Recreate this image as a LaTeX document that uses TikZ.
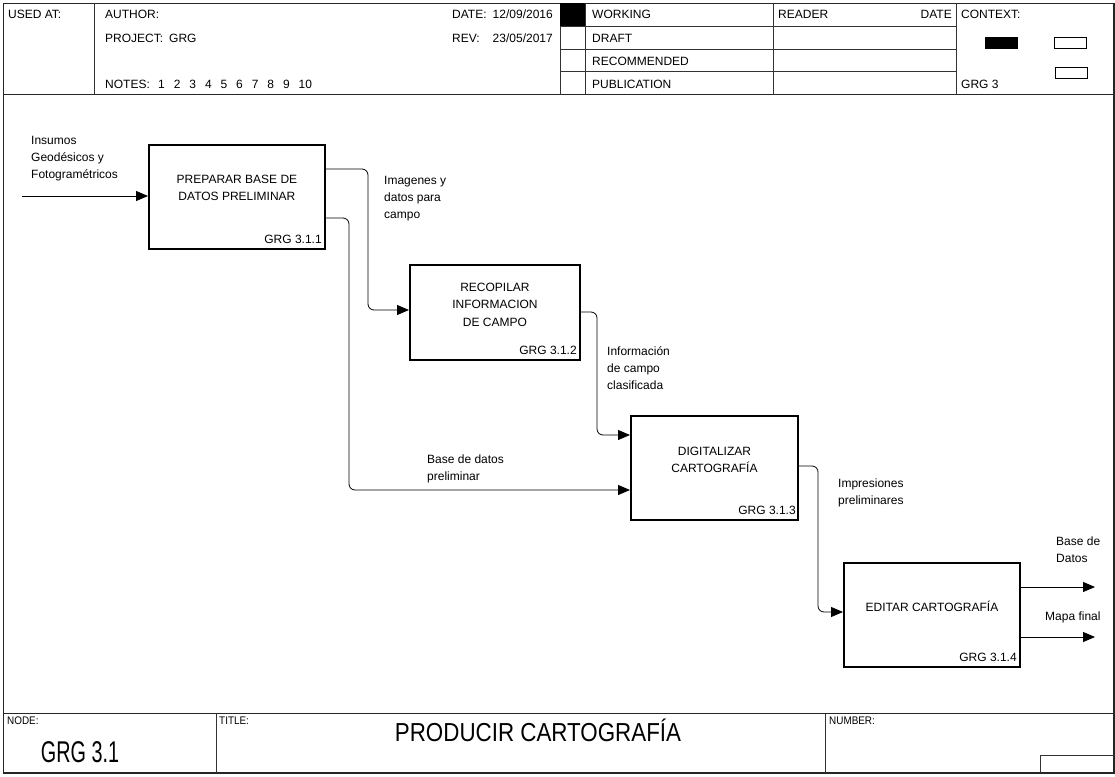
\documentclass[tikz,border=0pt]{standalone}
\usepackage{fontspec}
\setmainfont{Liberation Sans}
\newfontfamily\condsmall[FakeStretch=0.9]{Liberation Sans}
\newfontfamily\condbig[FakeStretch=0.66]{Liberation Sans}
\newfontfamily\condtitle[FakeStretch=0.86]{Liberation Sans}
\usetikzlibrary{arrows.meta}
\begin{document}
\begin{tikzpicture}[x=1pt,y=-1pt,
  frameline/.style={line width=1.3pt, draw=black!85},
  gridline/.style={line width=0.9pt, draw=black!80},
  procbox/.style={draw, line width=1.9pt, anchor=north west, inner sep=0pt},
  boxtxt/.style={font=\fontsize{12}{17.5}\selectfont, align=center, inner sep=0pt},
  code/.style={font=\fontsize{12}{14}\selectfont, anchor=base east, inner sep=0pt},
  conn/.style={line width=0.8pt, rounded corners=6pt, -{Triangle[length=12pt,width=10pt]}},
  lbl/.style={font=\fontsize{12}{17}\selectfont, align=left, anchor=north west, inner sep=0pt},
  hdr/.style={font=\fontsize{12}{14}\selectfont, anchor=base west, inner sep=0pt},
  hdrr/.style={font=\fontsize{12}{14}\selectfont, anchor=base east, inner sep=0pt},
  small/.style={font=\condsmall\fontsize{11}{13}\selectfont, anchor=base west, inner sep=0pt},
  ctxbox/.style={draw, line width=0.9pt, minimum width=32pt, minimum height=11pt, inner sep=0pt, anchor=north west},
]
\useasboundingbox (0,0) rectangle (1115,776);
% outer frame
\draw[frameline] (3.5,3.5) rectangle (1114,773);
% header
\draw[frameline] (3.5,94.5) -- (1114,94.5);
\draw[gridline] (94,3.5) -- (94,94.5);
\draw[gridline] (560,3.5) -- (560,94.5);
\draw[gridline] (585,3.5) -- (585,94.5);
\draw[gridline] (773,3.5) -- (773,94.5);
\draw[gridline] (956,3.5) -- (956,94.5);
\foreach \yy in {26,49,71.5} \draw[gridline] (560,\yy) -- (956,\yy);
\fill[black] (560,3.5) rectangle (585,26);
\node[hdr] (usedat) at (8,19) {USED AT:};
\node[hdr] (author) at (105,19) {AUTHOR:};
\node[hdr] (project) at (105,42) {PROJECT:};
\node[hdr] (projectv) at (169,42) {GRG};
\node[hdr] (notes) at (105,88) {NOTES:};
\foreach \n [count=\i from 0] in {1,2,3,4,5,6,7,8,9,10}
  \node[hdr] (note\n) at (158+\i*15.6,88) {\n};
\node[hdr] (date) at (452,19) {DATE:};
\node[hdrr] (datev) at (553,19) {12/09/2016};
\node[hdr] (rev) at (452,42) {REV:};
\node[hdrr] (revv) at (553,42) {23/05/2017};
\node[hdr] (working) at (592,19) {WORKING};
\node[hdr] (draft) at (592,42) {DRAFT};
\node[hdr] (recom) at (592,65) {RECOMMENDED};
\node[hdr] (publ) at (592,88) {PUBLICATION};
\node[hdr] (reader) at (778,19) {READER};
\node[hdrr] (rdate) at (952,19) {DATE};
\node[hdr] (context) at (961,19) {CONTEXT:};
\node[hdr] (grg3) at (961,88) {GRG 3};
\node[ctxbox, fill=black] (ctx1) at (985,37) {};
\node[ctxbox] (ctx2) at (1054,37) {};
\node[ctxbox] (ctx3) at (1055,67) {};

% process boxes
\node[procbox, minimum width=176pt, minimum height=104pt] (b1) at (148,144) {};
\node[procbox, minimum width=170pt, minimum height=95pt] (b2) at (409,264) {};
\node[procbox, minimum width=167pt, minimum height=104pt] (b3) at (630,415) {};
\node[procbox, minimum width=176pt, minimum height=104pt] (b4) at (843,562) {};
\node[boxtxt] (t1) at ([yshift=9pt]b1.center) {PREPARAR BASE DE\\DATOS PRELIMINAR};
\node[boxtxt] (t2) at ([yshift=8pt]b2.center) {RECOPILAR\\INFORMACION\\DE CAMPO};
\node[boxtxt] (t3) at ([yshift=8pt]b3.center) {DIGITALIZAR\\CARTOGRAFÍA};
\node[boxtxt] (t4) at ([yshift=9pt]b4.center) {EDITAR CARTOGRAFÍA};
\node[code] (g1) at ([xshift=-4pt,yshift=6pt]b1.south east) {GRG 3.1.1};
\node[code] (g2) at ([xshift=-4pt,yshift=6pt]b2.south east) {GRG 3.1.2};
\node[code] (g3) at ([xshift=-3pt,yshift=6pt]b3.south east) {GRG 3.1.3};
\node[code] (g4) at ([xshift=-4pt,yshift=6pt]b4.south east) {GRG 3.1.4};

% connectors
\coordinate (inStart) at (22,196);
\coordinate (out1) at (1095,587);
\coordinate (out2) at (1095,637);
\draw[conn] (inStart) -- (b1.west |- inStart);
\draw[conn] (b1.east |- 0,169) -- (368,169) -- (368,310) -- (b2.west |- 0,310);
\draw[conn] (b1.east |- 0,218) -- (349,218) -- (349,490) -- (b3.west |- 0,490);
\draw[conn] (b2.east |- 0,312) -- (597,312) -- (597,435) -- (b3.west |- 0,435);
\draw[conn] (b3.east |- 0,466) -- (818,466) -- (818,612) -- (b4.west |- 0,612);
\draw[conn] (b4.east |- out1) -- (out1);
\draw[conn] (b4.east |- out2) -- (out2);

% labels
\node[lbl] (l0) at (31,136) {Insumos\\Geodésicos y\\Fotogramétricos};
\node[lbl] (l1) at (384,176) {Imagenes y\\datos para\\campo};
\node[lbl] (l2) at (607,346) {Información\\de campo\\clasificada};
\node[lbl] (l3) at (427,455) {Base de datos\\preliminar};
\node[lbl] (l4) at (838,479) {Impresiones\\preliminares};
\node[lbl] (l5) at (1056,537) {Base de\\Datos};
\node[lbl] (l6) at (1045,612) {Mapa final};

% title block
\draw[frameline] (3.5,713.5) -- (1114,713.5);
\draw[gridline] (216,713.5) -- (216,773);
\draw[gridline] (825,713.5) -- (825,773);
\draw[gridline] (1040,773) -- (1040,755.5) -- (1114,755.5);
\node[small] (nodelbl) at (7,724) {NODE:};
\node[small] (titlelbl) at (219,724) {TITLE:};
\node[small] (numlbl) at (829,724) {NUMBER:};
\node[font=\condbig\fontsize{30}{32}\selectfont, anchor=base, inner sep=0pt] (nodeval) at (80,762) {GRG 3.1};
\node[font=\condtitle\fontsize{26}{30}\selectfont, anchor=base, inner sep=0pt] (titleval) at (538,741) {PRODUCIR CARTOGRAFÍA};
\end{tikzpicture}
\end{document}
